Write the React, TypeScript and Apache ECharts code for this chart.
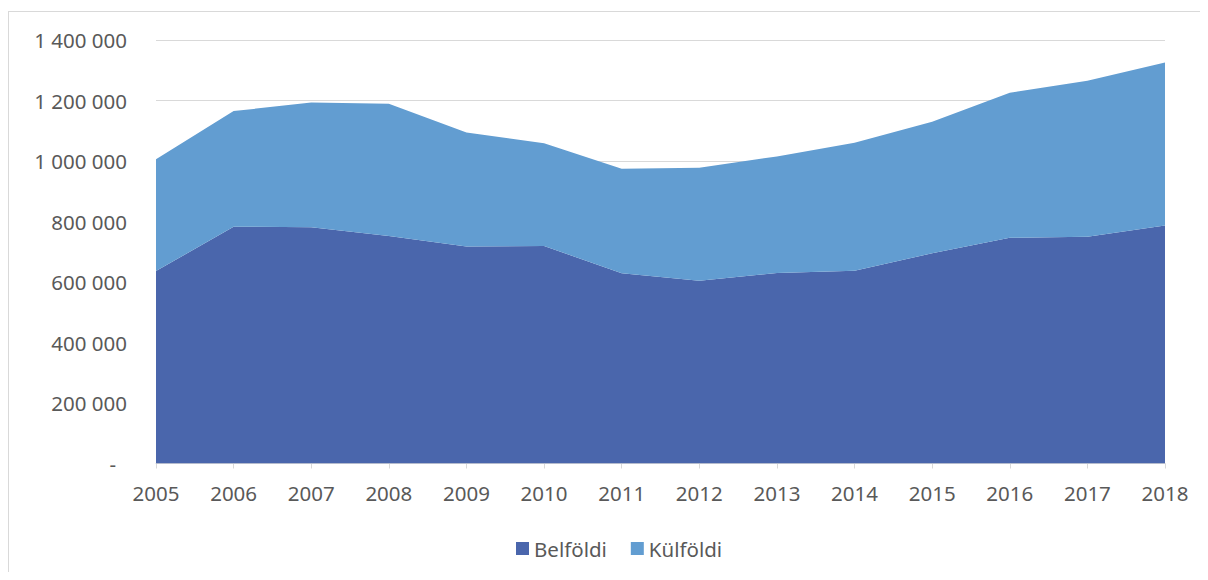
import React, { useEffect, useRef } from "react";
import * as echarts from "echarts";

const years = ["2005", "2006", "2007", "2008", "2009", "2010", "2011", "2012", "2013", "2014", "2015", "2016", "2017", "2018"];
const belfoldi = [636000, 783000, 781000, 752000, 717000, 719000, 629000, 604000, 630000, 637000, 695000, 746000, 750000, 787000];
const kulfoldi = [370000, 382000, 412000, 437000, 377000, 340000, 345000, 374000, 385000, 423000, 435000, 480000, 515000, 539000];
const seriesNames = ["Belföldi", "Külföldi"];
const colors = ["#4A66AC", "#629DD1"];
const yMax = 1400000;
const yStep = 200000;

const fmt = (v: number) => String(v).replace(/\B(?=(\d{3})+(?!\d))/g, " ");

export default function App() {
  const ref = useRef<HTMLDivElement>(null);
  useEffect(() => {
    if (!ref.current) return;
    document.body.style.overflow = "hidden";
    const chart = echarts.init(ref.current, null, { renderer: "svg" });
    const font = "'Noto Sans', sans-serif";
    const txt = "#595959";
    chart.setOption({
      animation: false,
      color: colors,
      grid: { left: 147, right: 43, top: 28, bottom: 111.5, containLabel: false },
      legend: {
        left: 502,
        top: 521,
        icon: "rect",
        itemWidth: 13,
        itemHeight: 13,
        itemGap: 24,
        textStyle: { color: txt, fontFamily: font, fontSize: 20.5 },
        data: seriesNames,
      },
      xAxis: {
        type: "category",
        data: years,
        boundaryGap: false,
        axisLine: { lineStyle: { color: "#D9D9D9", width: 1 } },
        axisTick: { show: true, length: 5, lineStyle: { color: "#D9D9D9" } },
        axisLabel: { color: txt, fontFamily: font, fontSize: 20.5, margin: 19 },
        splitLine: { show: false },
      },
      yAxis: {
        type: "value",
        min: 0,
        max: yMax,
        interval: yStep,
        axisLine: { show: false },
        axisTick: { show: false },
        axisLabel: {
          color: txt,
          fontFamily: font,
          fontSize: 20.5,
          margin: 29,
          formatter: (v: number) => (v === 0 ? "{d|-}" : fmt(v)),
          rich: { d: { color: txt, fontFamily: font, fontSize: 20.5, padding: [0, 11, 0, 0] } },
        },
        splitLine: { lineStyle: { color: "#D9D9D9", width: 1 } },
      },
      series: [
        {
          name: seriesNames[0],
          type: "line",
          stack: "total",
          data: belfoldi,
          showSymbol: false,
          symbol: "none",
          lineStyle: { width: 0 },
          areaStyle: { color: colors[0], opacity: 1 },
        },
        {
          name: seriesNames[1],
          type: "line",
          stack: "total",
          data: kulfoldi,
          showSymbol: false,
          symbol: "none",
          lineStyle: { width: 0 },
          areaStyle: { color: colors[1], opacity: 1 },
        },
      ],
    });
    return () => chart.dispose();
  }, []);
  return (
    <div
      style={{
        position: "relative",
        top: 3,
        width: 1200,
        height: 564,
        boxSizing: "border-box",
        borderLeft: "1px solid #D9D9D9",
        borderTop: "1px solid #D9D9D9",
        background: "#fff",
      }}
    >
      <div ref={ref} style={{ width: 1199, height: 563 }} />
    </div>
  );
}
